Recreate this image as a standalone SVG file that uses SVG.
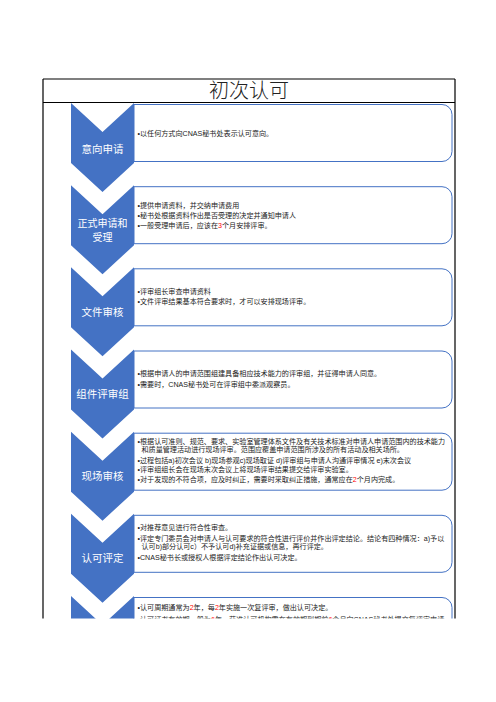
<svg xmlns="http://www.w3.org/2000/svg" width="496" height="702" viewBox="0 0 496 702">
<defs>
<clipPath id="cut"><rect x="0" y="0" width="496" height="618.5"/></clipPath>
<style>
.chev{fill:#4472C4}
.box{fill:#FFFFFF;stroke:#4472C4;stroke-width:1}
.lbl{font-family:"Noto Sans CJK SC","Liberation Sans",sans-serif;font-size:10.5px;fill:#FFFFFF;text-anchor:middle}
.t{font-family:"Liberation Sans","Noto Sans CJK SC",sans-serif;font-size:7.1px;fill:#222222}
.r{fill:#FF0000}
.title{font-family:"Noto Sans CJK SC","Liberation Sans",sans-serif;font-size:20px;font-weight:300;fill:#222222;text-anchor:middle}
.rule{stroke:#000000;stroke-width:1.2;fill:none}
</style>
</defs>
<rect width="496" height="702" fill="#FFFFFF"/>
<g clip-path="url(#cut)">
<g id="table">
<path class="rule" d="M43,79 H455 M43,102.5 H455 M43,79 V619 M455,79 V619"/>
<text class="title" x="249" y="98">初次认可</text>
</g>
<g id="connectors"/>

<g id="node-1">
<path class="box" d="M134,104.5 H442 A10,10 0 0 1 452,114.5 V151.5 A10,10 0 0 1 442,161.5 H134 Z"/>
<path class="chev" d="M71,103 L102.5,132 L134,103 L134,163 L102.5,192 L71,163 Z"/>
<text class="lbl" x="102.5" y="152.5">意向申请</text>
<text class="t" x="137.5" y="135.6">•以任何方式向CNAS秘书处表示认可意向。</text>
</g>

<g id="node-2">
<path class="box" d="M134,186.7 H442 A10,10 0 0 1 452,196.7 V233.7 A10,10 0 0 1 442,243.7 H134 Z"/>
<path class="chev" d="M71,185.2 L102.5,214.2 L134,185.2 L134,245.2 L102.5,274.2 L71,245.2 Z"/>
<text class="lbl" x="102.5" y="226.5" style="font-size:10px">正式申请和</text>
<text class="lbl" x="102.5" y="241" style="font-size:10px">受理</text>
<text class="t" x="137.5" y="207.6">•提供申请资料，并交纳申请费用</text>
<text class="t" x="137.5" y="217.6">•秘书处根据资料作出是否受理的决定并通知申请人</text>
<text class="t" x="137.5" y="227.6">•一般受理申请后，应该在<tspan class="r">3</tspan>个月安排评审。</text>
</g>

<g id="node-3">
<path class="box" d="M134,268.8 H442 A10,10 0 0 1 452,278.8 V315.8 A10,10 0 0 1 442,325.8 H134 Z"/>
<path class="chev" d="M71,267.3 L102.5,296.3 L134,267.3 L134,327.3 L102.5,356.3 L71,327.3 Z"/>
<text class="lbl" x="102.5" y="315.5">文件审核</text>
<text class="t" x="137.5" y="293.6">•评审组长审查申请资料</text>
<text class="t" x="137.5" y="304.3">•文件评审结果基本符合要求时，才可以安排现场评审。</text>
</g>

<g id="node-4">
<path class="box" d="M134,351 H442 A10,10 0 0 1 452,361 V398 A10,10 0 0 1 442,408 H134 Z"/>
<path class="chev" d="M71,349.5 L102.5,378.5 L134,349.5 L134,409.5 L102.5,438.5 L71,409.5 Z"/>
<text class="lbl" x="102.5" y="398">组件评审组</text>
<text class="t" x="137.5" y="376">•根据申请人的申请范围组建具备相应技术能力的评审组，并征得申请人同意。</text>
<text class="t" x="137.5" y="386.6">•需要时，CNAS秘书处可在评审组中委派观察员。</text>
</g>

<g id="node-5">
<path class="box" d="M134,433.2 H442 A10,10 0 0 1 452,443.2 V480.2 A10,10 0 0 1 442,490.2 H134 Z"/>
<path class="chev" d="M71,431.7 L102.5,460.7 L134,431.7 L134,491.7 L102.5,520.7 L71,491.7 Z"/>
<text class="lbl" x="102.5" y="480">现场审核</text>
<text class="t" x="137.5" y="443.6">•根据认可准则、规范、要求、实验室管理体系文件及有关技术标准对申请人申请范围内的技术能力</text>
<text class="t" x="141.5" y="452.3">和质量管理活动进行现场评审。范围应覆盖申请范围所涉及的所有活动及相关场所。</text>
<text class="t" x="137.5" y="462.6">•过程包括a)初次会议 b)现场参观c)现场取证 d)评审组与申请人沟通评审情况 e)末次会议</text>
<text class="t" x="137.5" y="471.6">•评审组组长会在现场末次会议上将现场评审结果提交给评审实验室。</text>
<text class="t" x="137.5" y="481.9">•对于发现的不符合项，应及时纠正，需要时采取纠正措施，通常应在<tspan class="r">2</tspan>个月内完成。</text>
</g>

<g id="node-6">
<path class="box" d="M134,515.3 H442 A10,10 0 0 1 452,525.3 V562.3 A10,10 0 0 1 442,572.3 H134 Z"/>
<path class="chev" d="M71,513.8 L102.5,542.8 L134,513.8 L134,573.8 L102.5,602.8 L71,573.8 Z"/>
<text class="lbl" x="102.5" y="562">认可评定</text>
<text class="t" x="137.5" y="530">•对推荐意见进行符合性审查。</text>
<text class="t" x="137.5" y="541">•评定专门委员会对申请人与认可要求的符合性进行评价并作出评定结论。结论有四种情况：a)予以</text>
<text class="t" x="141.5" y="549.3">认可b)部分认可c）不予认可d)补充证据或信息，再行评定。</text>
<text class="t" x="137.5" y="560">•CNAS秘书长或授权人根据评定结论作出认可决定。</text>
</g>

<g id="node-7">
<path class="box" d="M134,597.5 H442 A10,10 0 0 1 452,607.5 V644.5 A10,10 0 0 1 442,654.5 H134 Z"/>
<path class="chev" d="M71,596 L102.5,625 L134,596 L134,656 L102.5,685 L71,656 Z"/>
<text class="t" x="137.5" y="610">•认可周期通常为<tspan class="r">2</tspan>年，每<tspan class="r">2</tspan>年实施一次复评审，做出认可决定。</text>
<text class="t" x="137.5" y="621.6">•认可证书有效期一般为<tspan class="r">6</tspan>年，获准认可机构需在有效期到期前<tspan class="r">6</tspan>个月向CNAS秘书处提交复评审申请。</text>
</g>
</g>
</svg>
